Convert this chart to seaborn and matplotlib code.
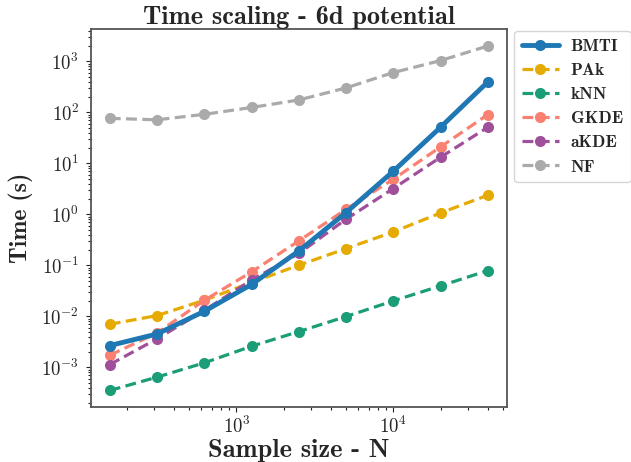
import numpy as np
import pandas as pd
import matplotlib
matplotlib.use('Agg')
import matplotlib.pyplot as plt
import seaborn as sns

# data
sample_sizes = [156.25, 312.5, 625, 1250, 2500, 5000, 10000, 20000, 40000]
bmti = [0.00266, 0.00449, 0.0125, 0.042, 0.19, 1.08, 6.97, 50.8, 393]
pak = [0.00697, 0.0103, 0.0206, 0.046, 0.10, 0.212, 0.45, 1.06, 2.36]
knn = [0.00035, 0.00064, 0.00122, 0.00258, 0.0050, 0.00986, 0.020, 0.0394, 0.0786]
gkde = [0.00172, 0.0047, 0.0205, 0.074, 0.30, 1.25, 4.86, 20.9, 90]
akde = [0.00113, 0.0036, 0.013, 0.051, 0.17, 0.80, 3.19, 13.1, 50.8]
nf = [76, 71, 91, 124, 174, 300, 600, 1030, 1990]

methods = ['BMTI', 'PAk', 'kNN', 'GKDE', 'aKDE', 'NF']
series = [bmti, pak, knn, gkde, akde, nf]
colors = ['#1f77b4', '#e6ab02', '#1b9e77', '#fa8072', '#a0509b', '#aaaaaa']
x_major = [1e3, 1e4]
y_major = [1e-3, 1e-2, 1e-1, 1e0, 1e1, 1e2, 1e3]

sns.set_style('ticks')
plt.rcParams['mathtext.fontset'] = 'cm'
plt.rcParams['font.family'] = ['cmr10', 'DejaVu Sans']
plt.rcParams['axes.formatter.use_mathtext'] = True

fig = plt.figure(figsize=(6.31, 4.62), dpi=100)
ax = fig.add_axes([0.144, 0.119, 0.659, 0.818])

for name, vals, col in zip(methods, series, colors):
    if name == 'BMTI':
        sns.lineplot(x=sample_sizes, y=vals, ax=ax, color=col, label=name,
                     linewidth=3.5, marker='o', markersize=8, markeredgewidth=0,
                     zorder=5)
    else:
        sns.lineplot(x=sample_sizes, y=vals, ax=ax, color=col, label=name,
                     linewidth=2.3, linestyle='--', marker='o', markersize=8,
                     markeredgewidth=0)
        ax.lines[-1].set_linestyle((0, (3.4, 1.7)))

ax.set_xscale('log')
ax.set_yscale('log')
xl = ax.get_xlim()
ax.set_xticks(x_major)
ax.set_yticks(y_major)
ax.set_xlim(xl)
ax.set_ylim(10**-3.78, 10**3.63)

for sp in ax.spines.values():
    sp.set_color('#555555')
    sp.set_linewidth(1.3)
ax.tick_params(which='both', color='#222222', labelsize=13.5, width=0.8)
ax.tick_params(axis='y', pad=5)
ax.tick_params(axis='x', pad=3)
ax.tick_params(which='major', length=3.5)
ax.tick_params(which='minor', length=2)

title = ax.set_title('Time scaling - 6d potential', fontdict=dict(family='cmb10', size=17.5), pad=4)
xlab = ax.set_xlabel('Sample size - N', fontdict=dict(family='cmb10', size=16.5), labelpad=1)
ylab = ax.set_ylabel('Time (s)', fontdict=dict(family='cmb10', size=17), labelpad=6)

# match the text widths seen in the reference (cmb10 is narrower than the original font)
fig.canvas.draw()
r = fig.canvas.get_renderer()
for txt, target, horiz in [(title, 339, True), (xlab, 186, True), (ylab, 90, False)]:
    bb = txt.get_window_extent(r)
    cur = bb.width if horiz else bb.height
    txt.set_fontsize(min(txt.get_fontsize() * target / cur, 19))

leg = ax.legend(loc='upper left', bbox_to_anchor=(1.01, 1.005), frameon=True,
                prop=dict(family='cmb10', size=12.5), handlelength=2.1,
                handletextpad=0.7, borderpad=0.45, labelspacing=0.52,
                borderaxespad=0.2)
leg.get_frame().set_edgecolor('#cccccc')

fig.savefig('out.png', dpi=100)
